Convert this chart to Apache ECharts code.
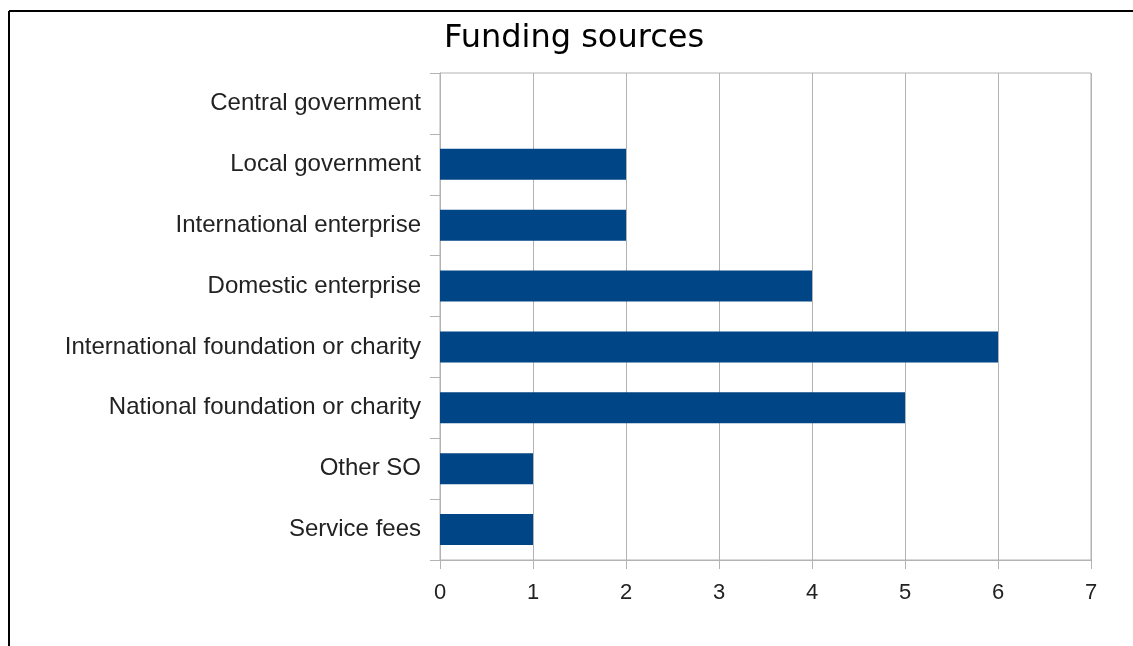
<!DOCTYPE html>
<html>
<head>
<meta charset="utf-8">
<script src="https://cdn.jsdelivr.net/npm/echarts@6/dist/echarts.min.js"></script>
<style>
  html, body { margin: 0; padding: 0; background: #fff; }
  #chart { width: 1133px; height: 646px; }
</style>
</head>
<body>
<div id="chart"></div>
<script>
// Funding source categories, top to bottom
const categories = [
  'Central government',
  'Local government',
  'International enterprise',
  'Domestic enterprise',
  'International foundation or charity',
  'National foundation or charity',
  'Other SO',
  'Service fees'
];
// Number of responses per source
const counts = [0, 2, 2, 4, 6, 5, 1, 1];
const valueTicks = [0, 1, 2, 3, 4, 5, 6, 7];

const gridColor = '#b3b3b3';
const barColor = '#004586';

const chart = echarts.init(document.getElementById('chart'), null, { renderer: 'canvas' });
chart.setOption({
  animation: false,
  backgroundColor: '#ffffff',
  title: {
    text: 'Funding sources',
    left: 439,
    top: 18,
    textStyle: {
      fontFamily: 'DejaVu Sans',
      fontSize: 32,
      fontWeight: 'normal',
      color: '#000'
    }
  },
  graphic: [
    { type: 'line', shape: { x1: 9, y1: 11, x2: 1133, y2: 11 }, style: { stroke: '#000', lineWidth: 2 } },
    { type: 'line', shape: { x1: 9, y1: 11, x2: 9, y2: 646 }, style: { stroke: '#000', lineWidth: 2 } }
  ],
  grid: {
    left: 440,
    right: 42,
    top: 73,
    bottom: 86,
    show: true,
    borderColor: gridColor,
    borderWidth: 1
  },
  xAxis: {
    type: 'value',
    min: valueTicks[0],
    max: valueTicks[valueTicks.length - 1],
    interval: 1,
    axisLine: { show: true, lineStyle: { color: gridColor } },
    axisTick: { show: true, length: 9, lineStyle: { color: gridColor } },
    splitLine: { show: true, lineStyle: { color: gridColor, width: 1 } },
    axisLabel: {
      margin: 22,
      fontFamily: 'Liberation Sans',
      fontSize: 22,
      color: '#222'
    }
  },
  yAxis: {
    type: 'category',
    data: categories,
    inverse: true,
    axisLine: { show: true, lineStyle: { color: gridColor } },
    axisTick: { show: true, length: 10, lineStyle: { color: gridColor } },
    splitLine: { show: false },
    axisLabel: {
      margin: 19,
      fontFamily: 'Liberation Sans',
      fontSize: 24,
      color: '#222'
    }
  },
  series: [{
    type: 'bar',
    data: counts,
    barWidth: '51%',
    itemStyle: { color: barColor }
  }]
});
</script>
</body>
</html>
